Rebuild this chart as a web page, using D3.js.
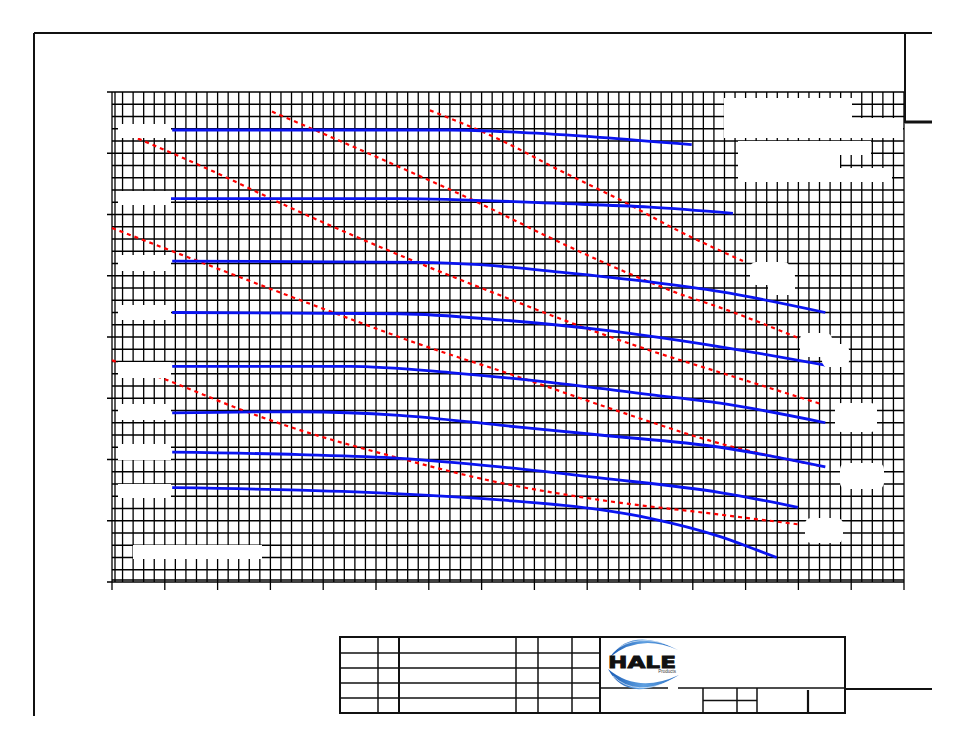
<!DOCTYPE html>
<html><head><meta charset="utf-8">
<script src="https://cdn.jsdelivr.net/npm/d3@7"></script>
<style>html,body{margin:0;padding:0;background:#fff;}svg{display:block;}</style>
</head><body>
<svg id="c" width="954" height="738"></svg>
<script>
// ---- data (flow, head) ----
const xMinor = d3.range(0, 1501, 20);
const xMajor = d3.range(0, 1501, 100);
const yMinor = d3.range(0, 401, 10);
const yMajor = d3.range(0, 401, 50);
const xTickLabels = [];   // labels are blanked in the reference
const yTickLabels = [];

const blue1 = [[114,369],[356,369],[640,369],[773,367],[924,363],[1098,357]];
const blue2 = [[110,313],[545,313],[848,309],[1019,306],[1176,301]];
const blue3 = [[114,262],[583,261],[697,259],[848,253],[1019,245],[1152,237],[1351,220]];
const blue4 = [[114,220],[545,219],[735,214],[924,206],[1152,192],[1351,177]];
const blue5 = [[114,176],[451,176],[640,171],[830,163],[1019,153],[1152,146],[1351,130]];
const blue6 = [[114,138],[356,139],[545,136],[735,128],[924,120],[1152,110],[1351,94]];
const blue7 = [[114,106],[356,104],[545,101],[735,94],[924,85],[1152,73],[1299,61]];
const blue8 = [[114,77],[356,75],[545,72],[735,67],[924,59],[1019,52],[1152,37],[1222,26],[1259,20]];

const redA = [[602,385],[735,361],[848,336],[962,312],[1076,286],[1195,262]];
const redB = [[303,384],[432,360],[564,335],[697,309],[830,281],[962,255],[1076,235],[1152,224],[1301,199]];
const redC = [[49,362],[167,340],[356,302],[583,260],[735,234],[867,212],[1019,189],[1152,171],[1345,145]];
const redD = [[0,289],[205,255],[394,224],[583,194],[773,167],[962,139],[1152,113],[1350,94]];
const redE = [[0,181],[91,167],[261,138],[356,124],[536,102],[735,81],[924,67],[1152,55],[1301,47]];

const blueSeries = [blue1, blue2, blue3, blue4, blue5, blue6, blue7, blue8];
const redSeries = [redA, redB, redC, redD, redE];

// ---- layout ----
const svg = d3.select("#c");
const X0 = 112, X1 = 904, Y0 = 582, Y1 = 92;
const x = d3.scaleLinear().domain([0, 1500]).range([X0, X1]);
const y = d3.scaleLinear().domain([0, 400]).range([Y0, Y1]);

const grid = svg.append("g").attr("stroke", "#000").attr("stroke-width", 1.3).attr("fill", "none");
grid.selectAll("line.v").data(xMinor).join("line")
  .attr("x1", d => x(d)).attr("x2", d => x(d))
  .attr("y1", y(400)).attr("y2", d => (d % 100 === 0) ? y(0) + 8 : y(0));
grid.selectAll("line.h").data(yMinor).join("line")
  .attr("y1", d => y(d)).attr("y2", d => y(d))
  .attr("x1", d => (d % 50 === 0) ? x(0) - 5 : x(0)).attr("x2", x(1500));
grid.append("line").attr("x1", x(0) + 3).attr("x2", x(0) + 3).attr("y1", y(400)).attr("y2", y(0));
grid.append("line").attr("x1", x(0)).attr("x2", x(1500)).attr("y1", y(0) - 2).attr("y2", y(0) - 2);

// ---- curves ----
const line = d3.line().x(d => x(d[0])).y(d => y(d[1])).curve(d3.curveMonotoneX);
svg.append("g").selectAll("path").data(redSeries).join("path")
  .attr("d", line).attr("fill", "none").attr("stroke", "#ff0000")
  .attr("stroke-width", 2.2).attr("stroke-dasharray", "4,4");
svg.append("g").selectAll("path").data(blueSeries).join("path")
  .attr("d", line).attr("fill", "none").attr("stroke", "#0a14f0")
  .attr("stroke-width", 2.8);

// ---- blanked label areas ----
const leftMaskRows = [[124,138],[191,205],[255,271],[305,320],[362,378],[404,420],[444,460],[484,498]];
const masks = [
  [133,545,262,559],
  [724,98,852,118],[724,118,903,138],
  [738,141,871,155],[738,155,840,168],[738,168,892,182]
].concat(leftMaskRows.map(r => [118, r[0], 171, r[1]]));
svg.append("g").selectAll("rect").data(masks).join("rect")
  .attr("x", d => d[0]).attr("y", d => d[1]).attr("width", d => d[2]-d[0]).attr("height", d => d[3]-d[1])
  .attr("fill", "#fff");
const blobs = [
  [750,262,790,285],[768,270,795,295],
  [800,333,832,357],[822,344,849,367],
  [835,403,877,432],
  [840,463,884,489],
  [805,518,843,543]
];
svg.append("g").selectAll("rect").data(blobs).join("rect")
  .attr("x", d => d[0]).attr("y", d => d[1]).attr("width", d => d[2]-d[0]).attr("height", d => d[3]-d[1])
  .attr("rx", 6).attr("fill", "#fff");

// ---- drawing frame ----
const fr = svg.append("g").attr("stroke", "#111").attr("fill", "none");
fr.append("line").attr("x1", 34).attr("x2", 932).attr("y1", 33).attr("y2", 33).attr("stroke-width", 2);
fr.append("line").attr("x1", 34).attr("x2", 34).attr("y1", 33).attr("y2", 716).attr("stroke-width", 2);
fr.append("line").attr("x1", 905).attr("x2", 905).attr("y1", 33).attr("y2", 123).attr("stroke-width", 2);
fr.append("line").attr("x1", 905).attr("x2", 932).attr("y1", 122).attr("y2", 122).attr("stroke-width", 3);
fr.append("line").attr("x1", 845).attr("x2", 932).attr("y1", 689).attr("y2", 689).attr("stroke-width", 2);

// title block
const tb = svg.append("g").attr("stroke", "#111").attr("fill", "none");
tb.append("rect").attr("x", 340).attr("y", 637).attr("width", 505).attr("height", 76).attr("stroke-width", 2);
[378, 399, 516, 538, 572, 600].forEach((vx, i) =>
  tb.append("line").attr("x1", vx).attr("x2", vx).attr("y1", 637).attr("y2", 713).attr("stroke-width", i === 1 || i === 5 ? 2 : 1.5));
[653, 668, 683, 698].forEach(hy =>
  tb.append("line").attr("x1", 340).attr("x2", 600).attr("y1", hy).attr("y2", hy).attr("stroke-width", 1.5));
tb.append("line").attr("x1", 600).attr("x2", 668).attr("y1", 688).attr("y2", 688).attr("stroke-width", 1.5);
tb.append("line").attr("x1", 678).attr("x2", 845).attr("y1", 688).attr("y2", 688).attr("stroke-width", 1.5);
[703, 737, 757].forEach(vx =>
  tb.append("line").attr("x1", vx).attr("x2", vx).attr("y1", 688).attr("y2", 713).attr("stroke-width", 1.5));
tb.append("line").attr("x1", 808).attr("x2", 808).attr("y1", 690).attr("y2", 713).attr("stroke-width", 2.2);
tb.append("line").attr("x1", 703).attr("x2", 757).attr("y1", 700.5).attr("y2", 700.5).attr("stroke-width", 1.5);

// logo
const defs = svg.append("defs");
const g1 = defs.append("linearGradient").attr("id", "sw").attr("x1", "0").attr("x2", "1");
g1.append("stop").attr("offset", "0").attr("stop-color", "#1a5cb5");
g1.append("stop").attr("offset", "0.5").attr("stop-color", "#5e9fe0");
g1.append("stop").attr("offset", "1").attr("stop-color", "#2a6fc4");
const logo = svg.append("g");
logo.append("path").attr("d", "M610,657 Q632,626 678,650 Q640,633 610,657 Z").attr("fill", "url(#sw)");
logo.append("path").attr("d", "M614,651 Q636,633 672,646").attr("fill", "none").attr("stroke", "#fff").attr("stroke-width", 0.6);
logo.append("path").attr("d", "M608,669 Q628,706 679,675 Q638,694 608,669 Z").attr("fill", "url(#sw)");
logo.append("path").attr("d", "M613,676 Q636,698 674,679").attr("fill", "none").attr("stroke", "#fff").attr("stroke-width", 0.6);
logo.append("text").attr("x", 608).attr("y", 668).attr("textLength", 68).attr("lengthAdjust", "spacingAndGlyphs")
  .attr("font-family", "DejaVu Sans").attr("font-weight", "bold").attr("font-size", 15.5)
  .attr("fill", "#111").attr("stroke", "#111").attr("stroke-width", 0.8).text("HALE");
logo.append("text").attr("x", 676).attr("y", 673).attr("text-anchor", "end")
  .attr("font-family", "Liberation Sans").attr("font-size", 4.5).attr("fill", "#333").text("Products");
</script>
</body></html>
